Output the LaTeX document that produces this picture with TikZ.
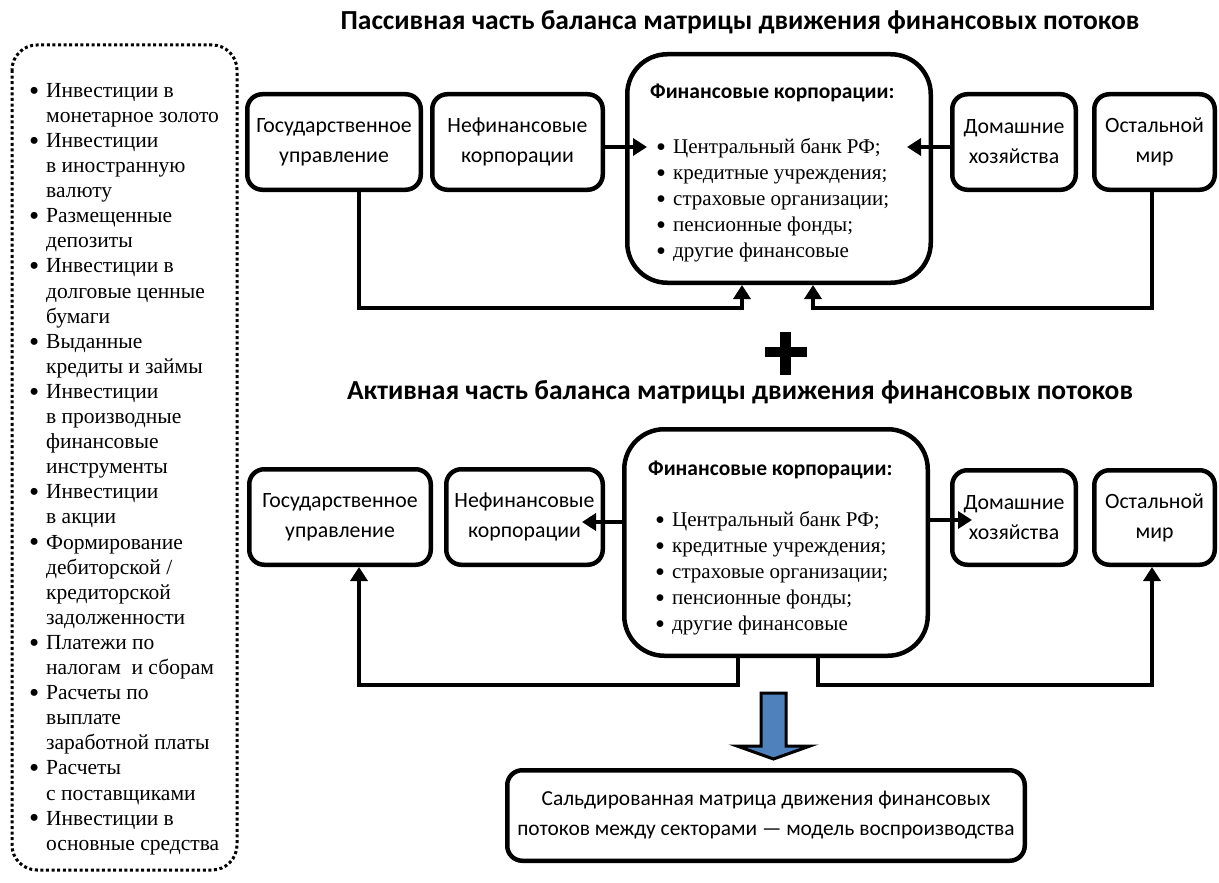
\documentclass[tikz,border=0pt]{standalone}
\usepackage{fontspec}
\setmainfont{Liberation Serif}
\newfontfamily\calfont{Carlito}
\usetikzlibrary{arrows.meta,calc}
\definecolor{arrblue}{HTML}{4F81BD}
\newcommand\bigbul{\raisebox{-2.8pt}{\scalebox{1.35}{\textbullet}}}
\newcommand\lb{\makebox[17pt][l]{\bigbul}}
\newcommand\lc{\hspace*{17pt}}
\newcommand\fbul{\makebox[17pt][l]{\bigbul}}
\begin{document}
\begin{tikzpicture}[x=1pt,y=-1pt,
  box/.style={draw=black,line width=4.5pt,rounded corners=15pt,inner sep=0pt,align=center,
    font=\calfont\fontsize{21.8}{30}\selectfont},
  finbox/.style={draw=black,line width=4.5pt,rounded corners=40pt,inner sep=0pt},
  flow/.style={draw=black,line width=4.5pt,-{Triangle[length=14pt,width=17pt]}},
  ttl/.style={font=\calfont\bfseries\fontsize{27.5}{30}\selectfont,inner sep=0pt},
  fintitle/.style={font=\calfont\bfseries\fontsize{21.5}{25}\selectfont,inner sep=0pt,anchor=west},
  finlist/.style={font=\fontsize{21}{26}\selectfont,inner sep=0pt,anchor=north west,align=left},
  leftlist/.style={font=\fontsize{21.5}{25.1}\selectfont,inner sep=0pt,anchor=north west,align=left},
  dotbox/.style={draw=black,line width=3pt,dash pattern=on 3pt off 2.6pt,rounded corners=25pt},
  bigarrow/.style={draw=black,line width=3pt,fill=arrblue,line join=miter}
]
\fill[white] (0,0) rectangle (1219,883);
\useasboundingbox (0,0) rectangle (1219,883);

% ---------- left dotted list ----------
\draw[dotbox] (12,45) rectangle (237,870);
\node[leftlist] (list) at (29,83) {%
\lb Инвестиции в\\
\lc монетарное золото\\
\lb Инвестиции\\
\lc в иностранную\\
\lc валюту\\
\lb Размещенные\\
\lc депозиты\\
\lb Инвестиции в\\
\lc долговые ценные\\
\lc бумаги\\
\lb Выданные\\
\lc кредиты и займы\\
\lb Инвестиции\\
\lc в производные\\
\lc финансовые\\
\lc инструменты\\
\lb Инвестиции\\
\lc в акции\\
\lb Формирование\\
\lc дебиторской /\\
\lc кредиторской\\
\lc задолженности\\
\lb Платежи по\\
\lc налогам~ и сборам\\
\lb Расчеты по\\
\lc выплате\\
\lc заработной платы\\
\lb Расчеты\\
\lc с поставщиками\\
\lb Инвестиции в\\
\lc основные средства};

% ---------- top (passive) ----------
\node[ttl] (title1) at (740,22) {Пассивная часть баланса матрицы движения финансовых потоков};

\node[box,minimum width=173.5pt,minimum height=95.5pt] (gT) at (334,142) {Государственное\\управление};
\node[box,minimum width=170.5pt,minimum height=95.5pt] (nT) at (517.5,142) {Нефинансовые\\корпорации};
\node[finbox,minimum width=303.5pt,minimum height=228.5pt] (fT) at (779,168.5) {};
\node[fintitle] (fTt) at (650,93) {Финансовые корпорации:};
\node[finlist] (fTl) at (656,138) {\fbul Центральный банк РФ;\\ \fbul кредитные учреждения;\\ \fbul страховые организации;\\ \fbul пенсионные фонды;\\ \fbul другие финансовые};
\node[box,minimum width=123.5pt,minimum height=95.5pt] (dT) at (1014,142) {Домашние\\хозяйства};
\node[box,minimum width=120.5pt,minimum height=95.5pt] (oT) at (1154.5,142) {Остальной\\мир};

\coordinate (fTinL) at (647,147);
\coordinate (fTinR) at (907,147);
\draw[flow] (nT.east |- fTinL) -- (fTinL);
\draw[flow] (dT.west |- fTinR) -- (fTinR);
\coordinate (jT1) at (359,308);
\coordinate (jT2) at (742,308);
\coordinate (jT3) at (1152,308);
\coordinate (jT4) at (813,308);
\draw[flow] (jT1 |- gT.south) -- (jT1) -- (jT2) -- (jT2 |- fT.south);
\draw[flow] (jT3 |- oT.south) -- (jT3) -- (jT4) -- (jT4 |- fT.south);

% ---------- plus ----------
\fill[black] (765,347) rectangle (807,357);
\fill[black] (780,332) rectangle (791,375);

% ---------- bottom (active) ----------
\node[ttl] (title2) at (740,392) {Активная часть баланса матрицы движения финансовых потоков};

\node[box,minimum width=181.5pt,minimum height=95.5pt] (gB) at (340,517) {Государственное\\управление};
\node[box,minimum width=156.5pt,minimum height=95.5pt] (nB) at (524.5,517) {Нефинансовые\\корпорации};
\node[finbox,minimum width=303.5pt,minimum height=226.5pt] (fB) at (776,542.5) {};
\node[fintitle] (fBt) at (648,470) {Финансовые корпорации:};
\node[finlist] (fBl) at (655,511) {\fbul Центральный банк РФ;\\ \fbul кредитные учреждения;\\ \fbul страховые организации;\\ \fbul пенсионные фонды;\\ \fbul другие финансовые};
\node[box,minimum width=123.5pt,minimum height=94.5pt] (dB) at (1014,517.5) {Домашние\\хозяйства};
\node[box,minimum width=120.5pt,minimum height=94.5pt] (oB) at (1154.5,517.5) {Остальной\\мир};

\coordinate (nBin) at (582,522);
\coordinate (dBin) at (972,520);
\draw[flow] (fB.west |- nBin) -- (nBin);
\draw[flow] (fB.east |- dBin) -- (dBin);
\coordinate (jB1) at (738,685);
\coordinate (jB2) at (359,685);
\coordinate (jB3) at (818,685);
\coordinate (jB4) at (1152,685);
\draw[flow] (jB1 |- fB.south) -- (jB1) -- (jB2) -- (jB2 |- gB.south);
\draw[flow] (jB3 |- fB.south) -- (jB3) -- (jB4) -- (jB4 |- oB.south);

% ---------- big blue arrow ----------
\draw[bigarrow] (761,693) -- (786,693) -- (786,746) -- (810,746) -- (773.5,759) -- (737,746) -- (761,746) -- cycle;

% ---------- result ----------
\node[box,minimum width=517.5pt,minimum height=90.5pt,font=\calfont\fontsize{21.4}{30}\selectfont] (res) at (766,815.5) {Сальдированная матрица движения финансовых\\потоков между секторами — модель воспроизводства};
\end{tikzpicture}
\end{document}
